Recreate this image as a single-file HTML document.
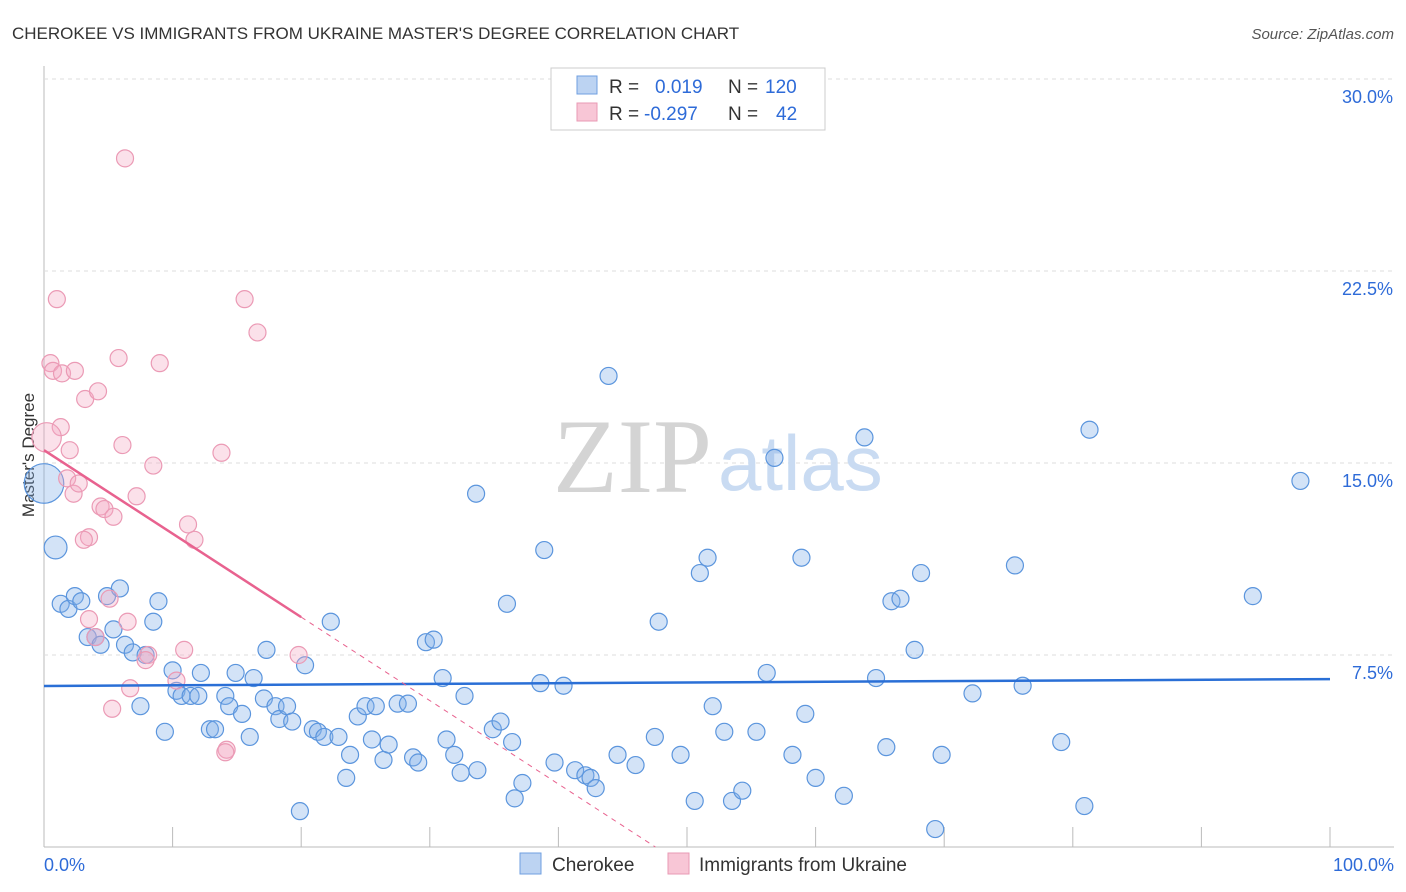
<!DOCTYPE html>
<html><head><meta charset="utf-8"><style>
body{margin:0;background:#fff;font-family:"Liberation Sans",sans-serif}
svg{display:block}
</style></head><body>
<svg id="chart" width="1406" height="892">
<text x="12" y="39" font-size="17" fill="#333">CHEROKEE VS IMMIGRANTS FROM UKRAINE MASTER'S DEGREE CORRELATION CHART</text>
<text x="1394" y="39" font-size="15" fill="#555" text-anchor="end" font-style="italic">Source: ZipAtlas.com</text>
<g id="grid"></g>
<text x="553" y="492" font-size="106" fill="#d4d4d4" font-family="Liberation Serif,serif">ZIP</text>
<text x="718" y="490" font-size="78" fill="#c9dbf2">atlas</text>
<text transform="translate(34,455) rotate(-90)" font-size="17" fill="#333" text-anchor="middle">Master's Degree</text>
<g id="pts"></g>
<g id="lines"></g>
<g>
<rect x="551" y="68" width="274" height="62" fill="#fff" stroke="#ccc"/>
<rect x="577" y="76" width="20" height="18" fill="#bcd3f2" stroke="#6f9fe0"/>
<rect x="577" y="103" width="20" height="18" fill="#f8c6d6" stroke="#e99ab4"/>
<text x="609" y="93" font-size="19" fill="#333">R = <tspan fill="#2e6bd8" x="655">0.019</tspan><tspan x="728">N = </tspan><tspan fill="#2e6bd8" x="765">120</tspan></text>
<text x="609" y="120" font-size="19" fill="#333">R = <tspan fill="#2e6bd8" x="644">-0.297</tspan><tspan x="728">N = </tspan><tspan fill="#2e6bd8" x="776">42</tspan></text>
</g>
<g>
<rect x="520" y="853" width="21" height="21" fill="#bcd3f2" stroke="#6f9fe0"/>
<text x="552" y="871" font-size="19" fill="#333">Cherokee</text>
<rect x="668" y="853" width="21" height="21" fill="#f8c6d6" stroke="#e99ab4"/>
<text x="699" y="871" font-size="19" fill="#333">Immigrants from Ukraine</text>
</g>
<text x="44" y="871" font-size="18" fill="#2e6bd8">0.0%</text>
<text x="1394" y="871" font-size="18" fill="#2e6bd8" text-anchor="end">100.0%</text>
</svg>
<script>
const yTicks=[7.5,15,22.5,30];
const yTickLabels=["7.5%","15.0%","22.5%","30.0%"];
const xTicks=[0,10,20,30,40,50,60,70,80,90,100];
const blueX=[0,0.9,1.3,1.9,2.4,2.9,3.4,4.0,4.4,4.9,5.4,5.9,6.3,6.9,7.5,7.9,8.5,8.9,9.4,10.0,10.3,10.7,11.4,12.0,12.2,12.9,13.3,14.1,14.4,14.9,15.4,16.0,16.3,17.1,17.3,18.0,18.3,18.9,19.3,19.9,20.3,20.9,21.3,21.8,22.3,22.9,23.5,23.8,24.4,25.0,25.5,25.8,26.4,26.8,27.5,28.3,28.7,29.1,29.7,30.3,31.0,31.3,31.9,32.4,32.7,33.7,33.6,34.9,35.5,36.0,36.4,36.6,37.2,38.6,38.9,39.7,40.4,41.3,42.1,42.5,42.9,43.9,44.6,46.0,47.5,47.8,49.5,50.6,51.0,51.6,52.0,52.9,53.5,54.3,55.4,56.2,56.8,58.2,58.9,59.2,60.0,62.2,63.8,64.7,65.5,65.9,66.6,67.7,68.2,69.3,69.8,72.2,75.5,76.1,79.1,80.9,81.3,94.0,97.7];
const blueY=[14.2,11.7,9.5,9.3,9.8,9.6,8.2,8.2,7.9,9.8,8.5,10.1,7.9,7.6,5.5,7.5,8.8,9.6,4.5,6.9,6.1,5.9,5.9,5.9,6.8,4.6,4.6,5.9,5.5,6.8,5.2,4.3,6.6,5.8,7.7,5.5,5.0,5.5,4.9,1.4,7.1,4.6,4.5,4.3,8.8,4.3,2.7,3.6,5.1,5.5,4.2,5.5,3.4,4.0,5.6,5.6,3.5,3.3,8.0,8.1,6.6,4.2,3.6,2.9,5.9,3.0,13.8,4.6,4.9,9.5,4.1,1.9,2.5,6.4,11.6,3.3,6.3,3.0,2.8,2.7,2.3,18.4,3.6,3.2,4.3,8.8,3.6,1.8,10.7,11.3,5.5,4.5,1.8,2.2,4.5,6.8,15.2,3.6,11.3,5.2,2.7,2.0,16.0,6.6,3.9,9.6,9.7,7.7,10.7,0.7,3.6,6.0,11.0,6.3,4.1,1.6,16.3,9.8,14.3];
const blueW=[6,2];
const pinkX=[0.5,1.0,0.7,1.4,2.4,1.3,0.2,2.0,1.8,2.3,2.7,3.2,4.2,5.8,9.0,15.6,16.6,6.3,6.1,8.5,13.8,7.2,4.4,4.7,5.4,3.5,3.1,11.2,11.7,5.1,3.5,6.5,8.1,7.9,10.9,19.8,10.3,6.7,5.3,14.2,14.1,4.0];
const pinkY=[18.9,21.4,18.6,18.5,18.6,16.4,16.0,15.5,14.4,13.8,14.2,17.5,17.8,19.1,18.9,21.4,20.1,26.9,15.7,14.9,15.4,13.7,13.3,13.2,12.9,12.1,12.0,12.6,12.0,9.7,8.9,8.8,7.5,7.3,7.7,7.5,6.5,6.2,5.4,3.8,3.7,8.2];
const pinkW=[1,1,1,1,1,1,3];
const blueTrend=[6.29,6.56];
const pinkTrend=[15.5,-0.326];
const pinkSolidEnd=20;

const X0=44,X1=1330,Yb=847,Yt=79;
const sx=v=>X0+(X1-X0)*v/100;
const sy=v=>Yb-(Yb-Yt)*v/30;
const NS="http://www.w3.org/2000/svg";
function mk(tag,attrs,parent){const e=document.createElementNS(NS,tag);for(const k in attrs)e.setAttribute(k,attrs[k]);parent.appendChild(e);return e;}
const grid=document.getElementById('grid');
const ax=mk('line',{x1:X0,y1:66,x2:X0,y2:847,stroke:'#bbb'},grid);


const bx=mk('line',{x1:X0,y1:847,x2:1394,y2:847,stroke:'#bbb'},grid);


yTicks.forEach((t,i)=>{
 const g=mk('line',{x1:X0,y1:sy(t),x2:1394,y2:sy(t),stroke:'#ddd','stroke-dasharray':'4,4'},grid);
 
 
 const tx=mk('text',{x:1393,y:sy(t)+24,'font-size':18,fill:'#2e6bd8','text-anchor':'end'},grid);
 tx.textContent=yTickLabels[i];
 
 
});
xTicks.forEach(t=>{
 const l=mk('line',{x1:sx(t),y1:827,x2:sx(t),y2:847,stroke:'#bbb'},grid);
 
 
});
const pts=document.getElementById('pts');
blueX.forEach((x,i)=>{
 const w=blueW[i]||1;
 const c=mk('circle',{cx:sx(x),cy:sy(blueY[i]),r:8.5*Math.sqrt(w)*(w>1?0.95:1),fill:'rgba(130,175,232,0.35)',stroke:'#5b95dd','stroke-width':1.2},pts);
 
 
});
pinkX.forEach((x,i)=>{
 const w=pinkW[i]||1;
 const c=mk('circle',{cx:sx(x),cy:sy(pinkY[i]),r:8.5*Math.sqrt(w),fill:'rgba(244,170,196,0.35)',stroke:'#eb9ab5','stroke-width':1.2},pts);
 
 
});
const lines=document.getElementById('lines');
const bl=mk('line',{x1:sx(0),y1:sy(blueTrend[0]),x2:sx(100),y2:sy(blueTrend[1]),stroke:'#2a6fd6','stroke-width':2.5},lines);


const pf=x=>pinkTrend[0]+pinkTrend[1]*x;
const pl=mk('line',{x1:sx(0),y1:sy(pf(0)),x2:sx(pinkSolidEnd),y2:sy(pf(pinkSolidEnd)),stroke:'#e8628f','stroke-width':2.5},lines);


const xEnd=-pinkTrend[0]/pinkTrend[1];
const pd=mk('line',{x1:sx(pinkSolidEnd),y1:sy(pf(pinkSolidEnd)),x2:sx(xEnd),y2:sy(0),stroke:'#e8628f','stroke-width':1,'stroke-dasharray':'5,5'},lines);


</script>
</body></html>
